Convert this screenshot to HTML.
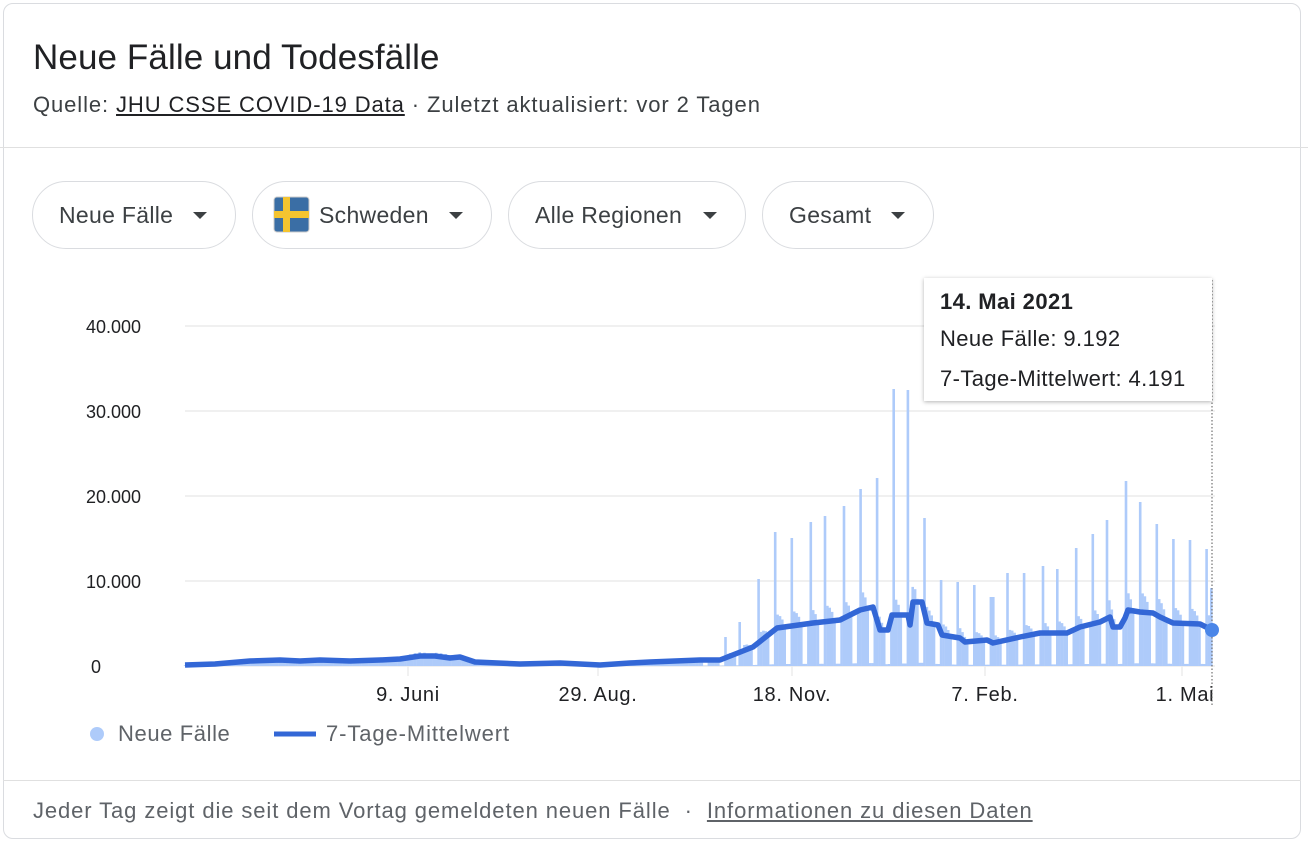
<!DOCTYPE html>
<html><head><meta charset="utf-8"><style>
body{margin:0;width:1308px;height:844px;background:#fff;font-family:"Liberation Sans",Arial,sans-serif;overflow:hidden}
.card{position:absolute;left:3px;top:3px;width:1298px;height:836px;border:1px solid #dadce0;border-radius:10px;box-sizing:border-box}
.t{position:absolute;left:33px;top:38px;font-size:35px;color:#202124;letter-spacing:0.1px}
.s{position:absolute;left:33px;top:92px;font-size:22px;color:#3c4043;letter-spacing:0.9px}
.s u{color:#202124}
.hr{position:absolute;left:0;width:1308px;height:1px;background:#e0e0e0}
.pill{position:absolute;top:181px;height:68px;border:1.5px solid #dadce0;border-radius:34px;box-sizing:border-box;font-size:23px;letter-spacing:0.3px;color:#3c4043;line-height:66px;padding-left:26px}
.pill:after{content:"";position:absolute;right:28px;top:30px;border-left:7px solid transparent;border-right:7px solid transparent;border-top:7px solid #3c4043}
.tip{position:absolute;left:924px;top:278px;width:288px;height:123px;background:#fff;box-shadow:0 1px 4px rgba(0,0,0,.3);font-size:22px;letter-spacing:0.4px;color:#202124}
.tip div{position:absolute;left:16px}
.f{position:absolute;left:33px;top:798px;font-size:22px;letter-spacing:0.9px;color:#5f6368}
</style></head><body>
<div class="card"></div>
<div class="t">Neue Fälle und Todesfälle</div>
<div class="s">Quelle: <u>JHU CSSE COVID-19 Data</u> · Zuletzt aktualisiert: vor 2 Tagen</div>
<div class="hr" style="top:147px"></div>
<div class="pill" style="left:32px;width:204px">Neue Fälle</div>
<div class="pill" style="left:252px;width:240px;padding-left:66px"><svg style="position:absolute;left:20px;top:14px" width="37" height="37"><rect x="1" y="1" width="35" height="35" rx="3" fill="#3a6ea5" stroke="#ccc"/><rect x="10" y="1" width="7" height="35" fill="#f4c430"/><rect x="1" y="15" width="35" height="7" fill="#f4c430"/></svg>Schweden</div>
<div class="pill" style="left:508px;width:238px">Alle Regionen</div>
<div class="pill" style="left:762px;width:172px">Gesamt</div>
<svg id="c" style="position:absolute;left:0;top:0" width="1308" height="844" font-family="Liberation Sans, Arial, sans-serif">
<g stroke="#ececec" stroke-width="1.5">
<line x1="185" x2="1215" y1="326" y2="326"/><line x1="185" x2="1215" y1="411" y2="411"/><line x1="185" x2="1215" y1="496" y2="496"/><line x1="185" x2="1215" y1="581" y2="581"/><line x1="185" x2="1215" y1="666" y2="666"/>
<line x1="408" x2="408" y1="666" y2="676"/><line x1="598" x2="598" y1="666" y2="676"/><line x1="792" x2="792" y1="666" y2="676"/><line x1="985" x2="985" y1="666" y2="676"/><line x1="1182" x2="1182" y1="666" y2="676"/>
</g>
<g font-size="18" fill="#202124" text-anchor="end"><text x="141" y="333">40.000</text><text x="141" y="418">30.000</text><text x="141" y="503">20.000</text><text x="141" y="588">10.000</text><text x="101" y="673">0</text></g>
<g font-size="20" letter-spacing="0.7" fill="#202124" text-anchor="middle"><text x="408" y="701">9. Juni</text><text x="598" y="701">29. Aug.</text><text x="792" y="701">18. Nov.</text><text x="985" y="701">7. Feb.</text><text x="1185" y="701">1. Mai</text></g>
<g id="bars" fill="#aecbfa"></g>
<polyline id="ln" fill="none" stroke="#3367d6" stroke-width="5.5" stroke-linejoin="round"/>
<line x1="1212" x2="1212" y1="280" y2="706" stroke="#555" stroke-dasharray="1.5,2"/>
<circle cx="1212" cy="630" r="7" fill="#4a86e8"/>
<circle cx="97" cy="734" r="7" fill="#aecbfa"/>
<text x="118" y="741" font-size="22" letter-spacing="0.6" fill="#5f6368">Neue Fälle</text>
<line x1="274" x2="316" y1="734" y2="734" stroke="#3367d6" stroke-width="5"/>
<text x="326" y="741" font-size="22" letter-spacing="0.9" fill="#5f6368">7-Tage-Mittelwert</text>
</svg>
<div class="tip"><div style="top:11px;font-weight:bold">14. Mai 2021</div><div style="top:48px">Neue Fälle: 9.192</div><div style="top:88px">7-Tage-Mittelwert: 4.191</div></div>
<div class="hr" style="top:780px;left:3px;width:1298px"></div>
<div class="f">Jeder Tag zeigt die seit dem Vortag gemeldeten neuen Fälle &nbsp;· &nbsp;<u>Informationen zu diesen Daten</u></div>
<script>
var L=[[185,665],[215,664],[250,661],[280,660],[300,661],[320,660],[350,661],[380,660],[400,659],[420,656],[435,656],[450,658],[460,657],[475,662],[520,664],[560,663],[600,665],[630,663],[650,662],[700,660],[720,660],[753,647],[777,628],[813,623],[840,620],[860,610],[873,607],[880,630],[888,630],[892,615],[908,615],[910,625],[913,602],[922,602],[927,623],[938,625],[942,635],[960,638],[965,642],[987,640],[993,643],[1020,637],[1040,633],[1067,633],[1080,627],[1100,622],[1110,617],[1113,627],[1120,627],[1125,618],[1128,610],[1140,612],[1153,613],[1160,617],[1173,623],[1200,624],[1212,630]];
document.getElementById('ln').setAttribute('points',L.map(p=>p.join(',')).join(' '));
function ly(x){for(var i=1;i<L.length;i++)if(x<=L[i][0]){var a=L[i-1],b=L[i];return a[1]+(b[1]-a[1])*(x-a[0])/(b[0]-a[0]);}return 630;}
var S=[[725,637],[740,622],[758,579],[775,532],[792,538],[810,522],[825,516],[843,506],[860,489],[877,478],[893,389],[908,390],[925,518],[942,580],[958,582],[975,585],[992,597],[1008,573],[1025,573],[1042,566],[1058,569],[1075,548],[1092,534],[1108,520],[1125,481],[1140,502],[1157,524],[1173,539],[1190,540],[1207,549]];
var h='',f=[1,1.35,1.3,1.2,1.05,0.05,0.05];
for(var i=0;i<=433;i++){var x=185+i*2.37,y=ly(x),t;
 var sp=null;for(var k=0;k<S.length;k++)if(Math.abs(S[k][0]-x)<1.2)sp=S[k];
 if(sp){t=sp[1];}else if(x>700){var d=Math.round((x-725)/2.37);d=((d%7)+7)%7;t=666-(666-y)*f[d];}else{t=666-(666-y)*(0.8+0.6*Math.abs(Math.sin(i*1.7)));}
 if(i==433)t=588;
 h+='<rect x="'+(x-1.2).toFixed(1)+'" y="'+t.toFixed(1)+'" width="2.6" height="'+(666-t).toFixed(1)+'"/>';}
document.getElementById('bars').innerHTML=h;
</script>
</body></html>
